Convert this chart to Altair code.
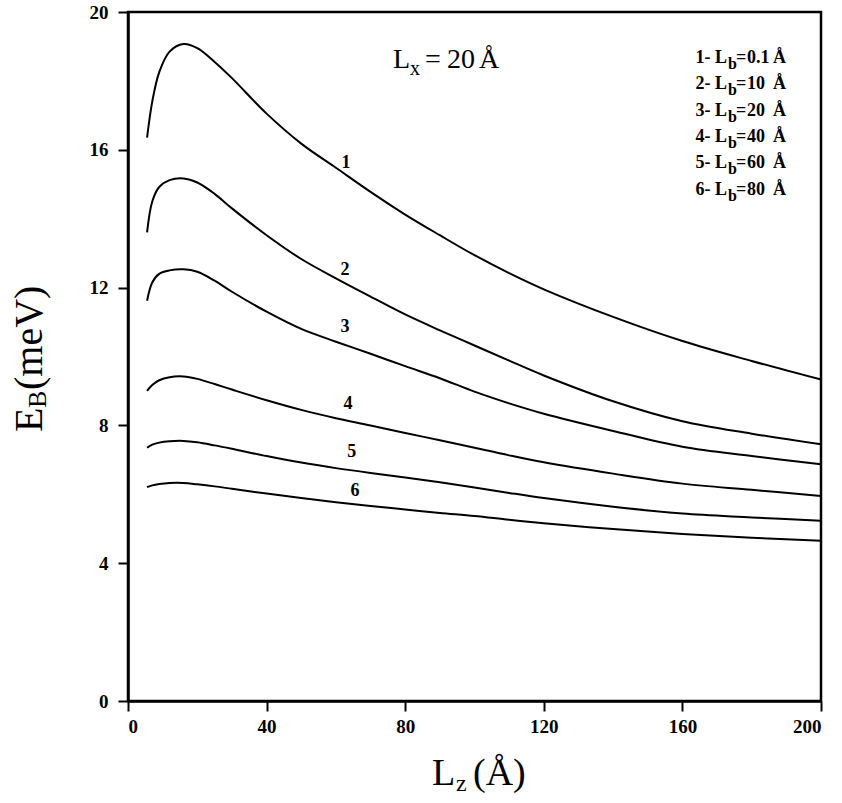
import altair as alt
import pandas as pd

# ---- data ----
Lz = [5.5, 7, 9, 12, 16, 20, 25, 30, 40, 50, 60, 70, 80, 90, 100, 110, 120, 140, 160, 180, 200]
EB_1 = [16.35, 17.4, 18.25, 18.85, 19.07, 18.95, 18.55, 18.08, 17.05, 16.18, 15.48, 14.78, 14.12, 13.52, 12.94, 12.42, 11.95, 11.15, 10.45, 9.87, 9.33]
EB_2 = [13.6, 14.5, 14.92, 15.12, 15.17, 15.05, 14.72, 14.3, 13.52, 12.83, 12.27, 11.74, 11.22, 10.76, 10.32, 9.88, 9.45, 8.7, 8.12, 7.76, 7.45]
EB_3 = [11.62, 12.15, 12.4, 12.5, 12.53, 12.46, 12.2, 11.88, 11.3, 10.8, 10.43, 10.08, 9.72, 9.37, 8.98, 8.64, 8.34, 7.84, 7.38, 7.11, 6.87]
EB_4 = [9.0, 9.17, 9.31, 9.4, 9.42, 9.35, 9.2, 9.04, 8.73, 8.45, 8.21, 8.0, 7.78, 7.57, 7.35, 7.13, 6.93, 6.6, 6.31, 6.13, 5.95]
EB_5 = [7.35, 7.44, 7.5, 7.54, 7.55, 7.51, 7.42, 7.32, 7.11, 6.92, 6.76, 6.62, 6.49, 6.35, 6.2, 6.04, 5.89, 5.64, 5.44, 5.33, 5.23]
EB_6 = [6.21, 6.26, 6.3, 6.33, 6.33, 6.29, 6.23, 6.16, 6.02, 5.89, 5.77, 5.66, 5.56, 5.46, 5.37, 5.26, 5.16, 4.99, 4.85, 4.74, 4.65]

curve_ids = ["1", "2", "3", "4", "5", "6"]
Lb_values = ["0.1", "10", "20", "40", "60", "80"]
label_x = [62.9, 62.6, 62.6, 63.5, 64.6, 65.5]
label_y = [15.63, 12.52, 10.87, 8.61, 7.22, 6.09]

x_ticks = [0, 40, 80, 120, 160, 200]
y_ticks = [0, 4, 8, 12, 16, 20]

rows = []
for cid, ys in zip(curve_ids, [EB_1, EB_2, EB_3, EB_4, EB_5, EB_6]):
    for x, y in zip(Lz, ys):
        rows.append({"curve": cid, "Lz": x, "EB": y})
df = pd.DataFrame(rows)
lab_df = pd.DataFrame({"curve": curve_ids, "x": label_x, "y": label_y})

SERIF = "Liberation Serif"
W, H = 693, 689

xscale = alt.Scale(domain=[0, 200], nice=False, zero=False)
yscale = alt.Scale(domain=[0, 20], nice=False, zero=False)

axis_common = dict(
    title=None, grid=False, domainColor="black", domainWidth=2.5,
    tickColor="black", tickWidth=2, tickSize=10,
    labelFont=SERIF, labelFontWeight="bold", labelFontSize=19,
    labelColor="black",
)

lines = alt.Chart(df).mark_line(color="black", strokeWidth=2, interpolate="catmull-rom").encode(
    x=alt.X("Lz:Q", scale=xscale, axis=alt.Axis(values=x_ticks, labelPadding=6, **axis_common)),
    y=alt.Y("EB:Q", scale=yscale, axis=alt.Axis(values=y_ticks, labelPadding=10, **axis_common)),
    detail="curve:N",
)

curve_labels = alt.Chart(lab_df).mark_text(
    font=SERIF, fontWeight="bold", fontSize=18, color="black"
).encode(
    x=alt.X("x:Q", scale=xscale),
    y=alt.Y("y:Q", scale=yscale),
    text="curve:N",
)


def txt(s, x, y, size, weight="normal", align="left", angle=0, baseline="alphabetic"):
    return alt.Chart(pd.DataFrame({"t": [s]})).mark_text(
        font=SERIF, fontSize=size, fontWeight=weight, align=align,
        baseline=baseline, angle=angle, color="black",
    ).encode(text="t:N", x=alt.value(x), y=alt.value(y))


layers = [lines, curve_labels]

# Lx = 20 Å annotation
layers += [
    txt("L", 265, 56, 28),
    txt("x", 282, 63, 20),
    txt("=", 297, 56, 28),
    txt("20", 319, 56, 28),
    txt("Å", 351, 56, 28),
]

# legend block
base_y = [51, 77, 104, 130, 156, 183]
for cid, lb, by in zip(curve_ids, Lb_values, base_y):
    layers += [
        txt(f"{cid}- L", 599, by, 18, "bold", align="right"),
        txt("b", 600, by + 6, 16, "bold"),
        txt("=", 608, by, 18, "bold"),
        txt(lb, 619, by, 18, "bold"),
        txt("Å", 645, by, 18, "bold"),
    ]

# y axis title  E_B(meV)
layers += [
    txt("E", -86, 420, 40, angle=270),
    txt("B", -82, 396, 26, angle=270),
    txt("(meV)", -86, 378, 40, angle=270),
]

# x axis title  L_z (Å)
layers += [
    txt("L", 304, 773, 38),
    txt("z", 328, 779, 24),
    txt("(Å)", 345, 773, 38),
]

chart = alt.layer(*layers).properties(
    width=W, height=H,
    autosize=alt.AutoSizeParams(type="none"),
    padding={"left": 128, "top": 12, "right": 21, "bottom": 102},
    background="white",
).configure_view(stroke="black", strokeWidth=2.5)

chart.save("out.html", embed_options={"renderer": "svg", "actions": False})
